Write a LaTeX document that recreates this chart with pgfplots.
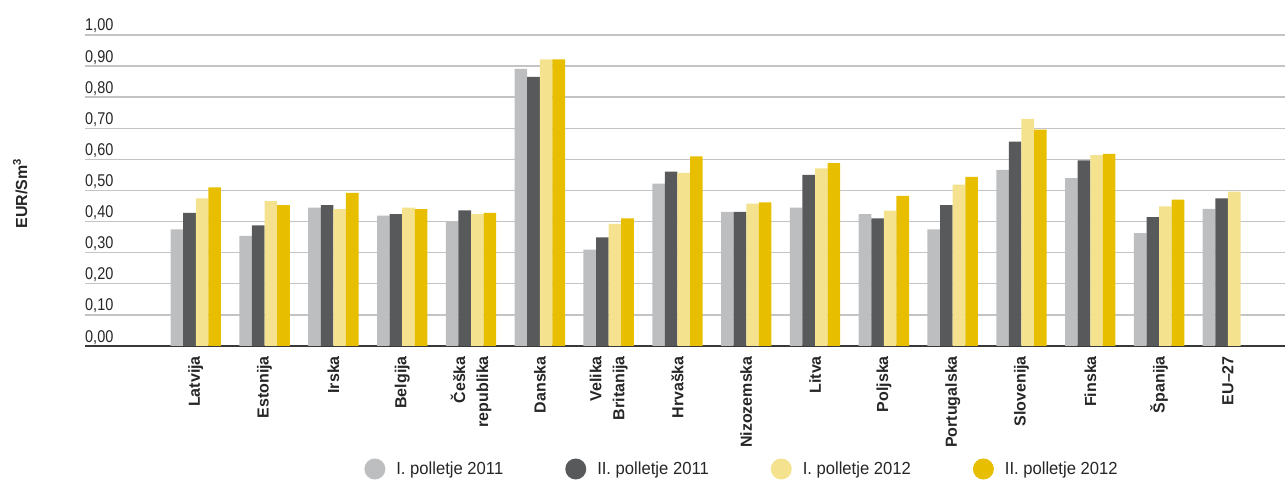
\documentclass[border=0pt]{standalone}
\usepackage{pgfplots}
\pgfplotsset{compat=1.18}
\usepackage{fontspec}
\setmainfont{Liberation Sans}
\newfontfamily\tickff[FakeStretch=0.85]{Liberation Sans}
\newfontfamily\legff[FakeStretch=0.95]{Liberation Sans}
\newcommand\tickfont{\tickff\fontsize{17bp}{19bp}\selectfont}
\newcommand\labfont{\bfseries\fontsize{16bp}{23bp}\selectfont}
\newcommand\legfont{\legff\fontsize{17.5bp}{20bp}\selectfont}
\definecolor{cA}{HTML}{BDBEC0}
\definecolor{cB}{HTML}{58595B}
\definecolor{cC}{HTML}{F4E28F}
\definecolor{cD}{HTML}{E8BF00}
\definecolor{gridc}{HTML}{C4C4C4}
\begin{document}
\begin{tikzpicture}
\useasboundingbox (0,0) rectangle (1288bp,482bp);
\begin{axis}[
  at={(85bp,136bp)}, anchor=south west,
  scale only axis, width=1200bp, height=311bp,
  ybar=0pt, bar width=0.183,
  legend image code/.code={\fill[#1] (10.5bp,0bp) circle (10.5bp);},
  xmin=-1.61, xmax=15.83, ymin=0, ymax=1,
  enlargelimits=false,
  axis x line*=bottom, axis y line*=left,
  y axis line style={draw=none},
  x axis line style={draw=black!78, line width=1.5bp, -},
  major tick length=0pt,
  ymajorgrids, major grid style={draw=gridc, line width=1.4bp},
  ytick={0,0.1,0.2,0.3,0.4,0.5,0.6,0.7,0.8,0.9,1.0},
  y tick label style={/pgf/number format/.cd, fixed, fixed zerofill, precision=2, use comma, assume math mode=true, /tikz/.cd,
    anchor=base west, inner xsep=0pt, yshift=4bp, font=\tickfont, text=black!85},
  xtick={0,...,15},
  xticklabels={Latvija, Estonija, Irska, Belgija, {Češka\\republika}, Danska, {Velika\\Britanija}, Hrvaška, Nizozemska, Litva, Poljska, Portugalska, Slovenija, Finska, Španija, EU–27},
  x tick label style={rotate=90, anchor=east, align=right, inner xsep=10bp, font=\labfont, text=black!85},
  ylabel={EUR/Sm\textsuperscript{3}},
  every axis y label/.style={at={(axis description cs:-0.054,0.49)}, rotate=90, anchor=center, font=\labfont, text=black!85},
  legend columns=4,
  legend style={at={(axis description cs:0.5475,-0.3955)}, anchor=center, draw=none, fill=none, font=\legfont, text=black!85,
    /tikz/every odd column/.append style={column sep=9bp},
    /tikz/every even column/.append style={column sep=60bp}},
]
\addplot[fill=cA, draw=none] coordinates {(0,0.375) (1,0.354) (2,0.445) (3,0.419) (4,0.399) (5,0.891) (6,0.310) (7,0.522) (8,0.431) (9,0.445) (10,0.424) (11,0.375) (12,0.566) (13,0.540) (14,0.363) (15,0.441)};
\addplot[fill=cB, draw=none] coordinates {(0,0.428) (1,0.388) (2,0.453) (3,0.424) (4,0.436) (5,0.865) (6,0.349) (7,0.561) (8,0.431) (9,0.550) (10,0.410) (11,0.453) (12,0.657) (13,0.597) (14,0.414) (15,0.475)};
\addplot[fill=cC, draw=none] coordinates {(0,0.475) (1,0.466) (2,0.440) (3,0.445) (4,0.424) (5,0.922) (6,0.393) (7,0.557) (8,0.458) (9,0.571) (10,0.435) (11,0.519) (12,0.730) (13,0.614) (14,0.449) (15,0.496)};
\addplot[fill=cD, draw=none] coordinates {(0,0.510) (1,0.453) (2,0.492) (3,0.440) (4,0.428) (5,0.922) (6,0.410) (7,0.610) (8,0.462) (9,0.588) (10,0.483) (11,0.544) (12,0.696) (13,0.618) (14,0.471)};
\legend{I. polletje 2011, II. polletje 2011, I. polletje 2012, II. polletje 2012}
\end{axis}
\end{tikzpicture}
\end{document}
